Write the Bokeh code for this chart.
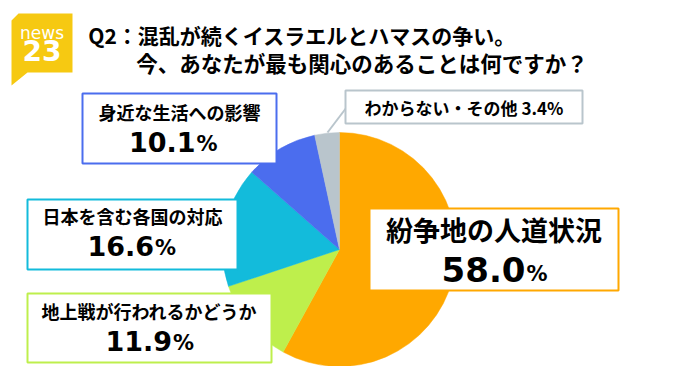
import numpy as np
from bokeh.plotting import figure
from bokeh.models import Range1d
from bokeh.core.properties import value
from bokeh.embed import file_html
from bokeh.resources import INLINE

# ---- data ----
categories = ["紛争地の人道状況", "地上戦が行われるかどうか", "日本を含む各国の対応",
              "身近な生活への影響", "わからない・その他"]
shares = [58.0, 11.9, 16.6, 10.1, 3.4]
colors = ["#FFA800", "#BEEF4C", "#13BBDB", "#4B6DEE", "#B9C5CC"]
title_lines = ["Q2：混乱が続くイスラエルとハマスの争い。",
               "今、あなたが最も関心のあることは何ですか？"]

JP = "Noto Sans CJK JP"
NUM = "DejaVu Sans"

W, H = 664, 366


def Y(py):
    return 382 - py


p = figure(width=W, height=H, x_range=Range1d(0, 664), y_range=Range1d(16, 382),
           output_backend="svg", toolbar_location=None, min_border=0,
           x_axis_location=None, y_axis_location=None,
           background_fill_color="white", border_fill_color="white")
p.grid.visible = False
p.outline_line_color = None

# ---- pie ----
frac = np.array(shares) / np.sum(shares)
cum_end = np.cumsum(frac)
cum_start = cum_end - frac
start_angle = np.pi / 2 - 2 * np.pi * cum_end
end_angle = np.pi / 2 - 2 * np.pi * cum_start
cx, cy, rad = 339, Y(249), 117
p.wedge(x=cx, y=cy, radius=rad, start_angle=start_angle, end_angle=end_angle,
        fill_color=colors, line_color=colors, line_width=0.5)

# connector for the small slice
p.line([327, 346], [Y(132), Y(107)], line_color=colors[4], line_width=2)


def txt(x, y, s, font, size, align="center", baseline="middle", color="black", style="bold"):
    p.text(x=[x], y=[Y(y)], text=[s], text_font=value(font), text_font_size=value(f"{size}px"),
           text_font_style=style, text_align=align, text_baseline=baseline, text_color=color)


# ---- label boxes ----
# (left, right, top, bottom, title_y, title_size, split_x, num_mid_y, num_size, pct_size)
boxes = {
    0: (369, 618, 208, 290, 229, 27, 525, 269, 34, 21),
    1: (27, 271, 293, 362, 310, 18, 171.5, 340.5, 27, 21),
    2: (27, 237, 199, 269, 215, 18, 153.5, 245.5, 27, 21),
    3: (82, 276, 93, 163, 111, 18, 195, 141.5, 27, 21),
}
for i, (l, r, t, b, ty, ts, sx, ny, ns, ps) in boxes.items():
    p.quad(left=[l], right=[r], top=[Y(t)], bottom=[Y(b)], fill_color="white",
           line_color=colors[i], line_width=2)
    txt((l + r) / 2, ty, categories[i], JP, ts)
    txt(sx, ny, f"{shares[i]:.1f}", NUM, ns, align="right")
    txt(sx + 1, ny + 0.36 * (ns - ps), "%", NUM, ps, align="left")

# small "other" box
l, r, t, b = 345, 582, 90, 123
p.quad(left=[l], right=[r], top=[Y(t)], bottom=[Y(b)], fill_color="white",
       line_color=colors[4], line_width=2)
txt((l + r) / 2, 107, f"{categories[4]} {shares[4]:.1f}%", JP, 17)

# ---- title ----
txt(301.5, 34.5, title_lines[0], JP, 21)
txt(361.5, 61.5, title_lines[1], JP, 21.5)

# ---- logo ----
logo_x = [18, 72, 72, 27, 11, 11]
logo_y = [13, 13, 72, 72, 85, 20]
p.patch(logo_x, [Y(v) for v in logo_y], fill_color="#F6C912", line_color=None)
txt(41.5, 32.5, "news", NUM, 17, color="white", style="normal")
txt(41.5, 50, "23", NUM, 28, color="white", style="bold")

open("out.html", "w").write(file_html(p, INLINE))
